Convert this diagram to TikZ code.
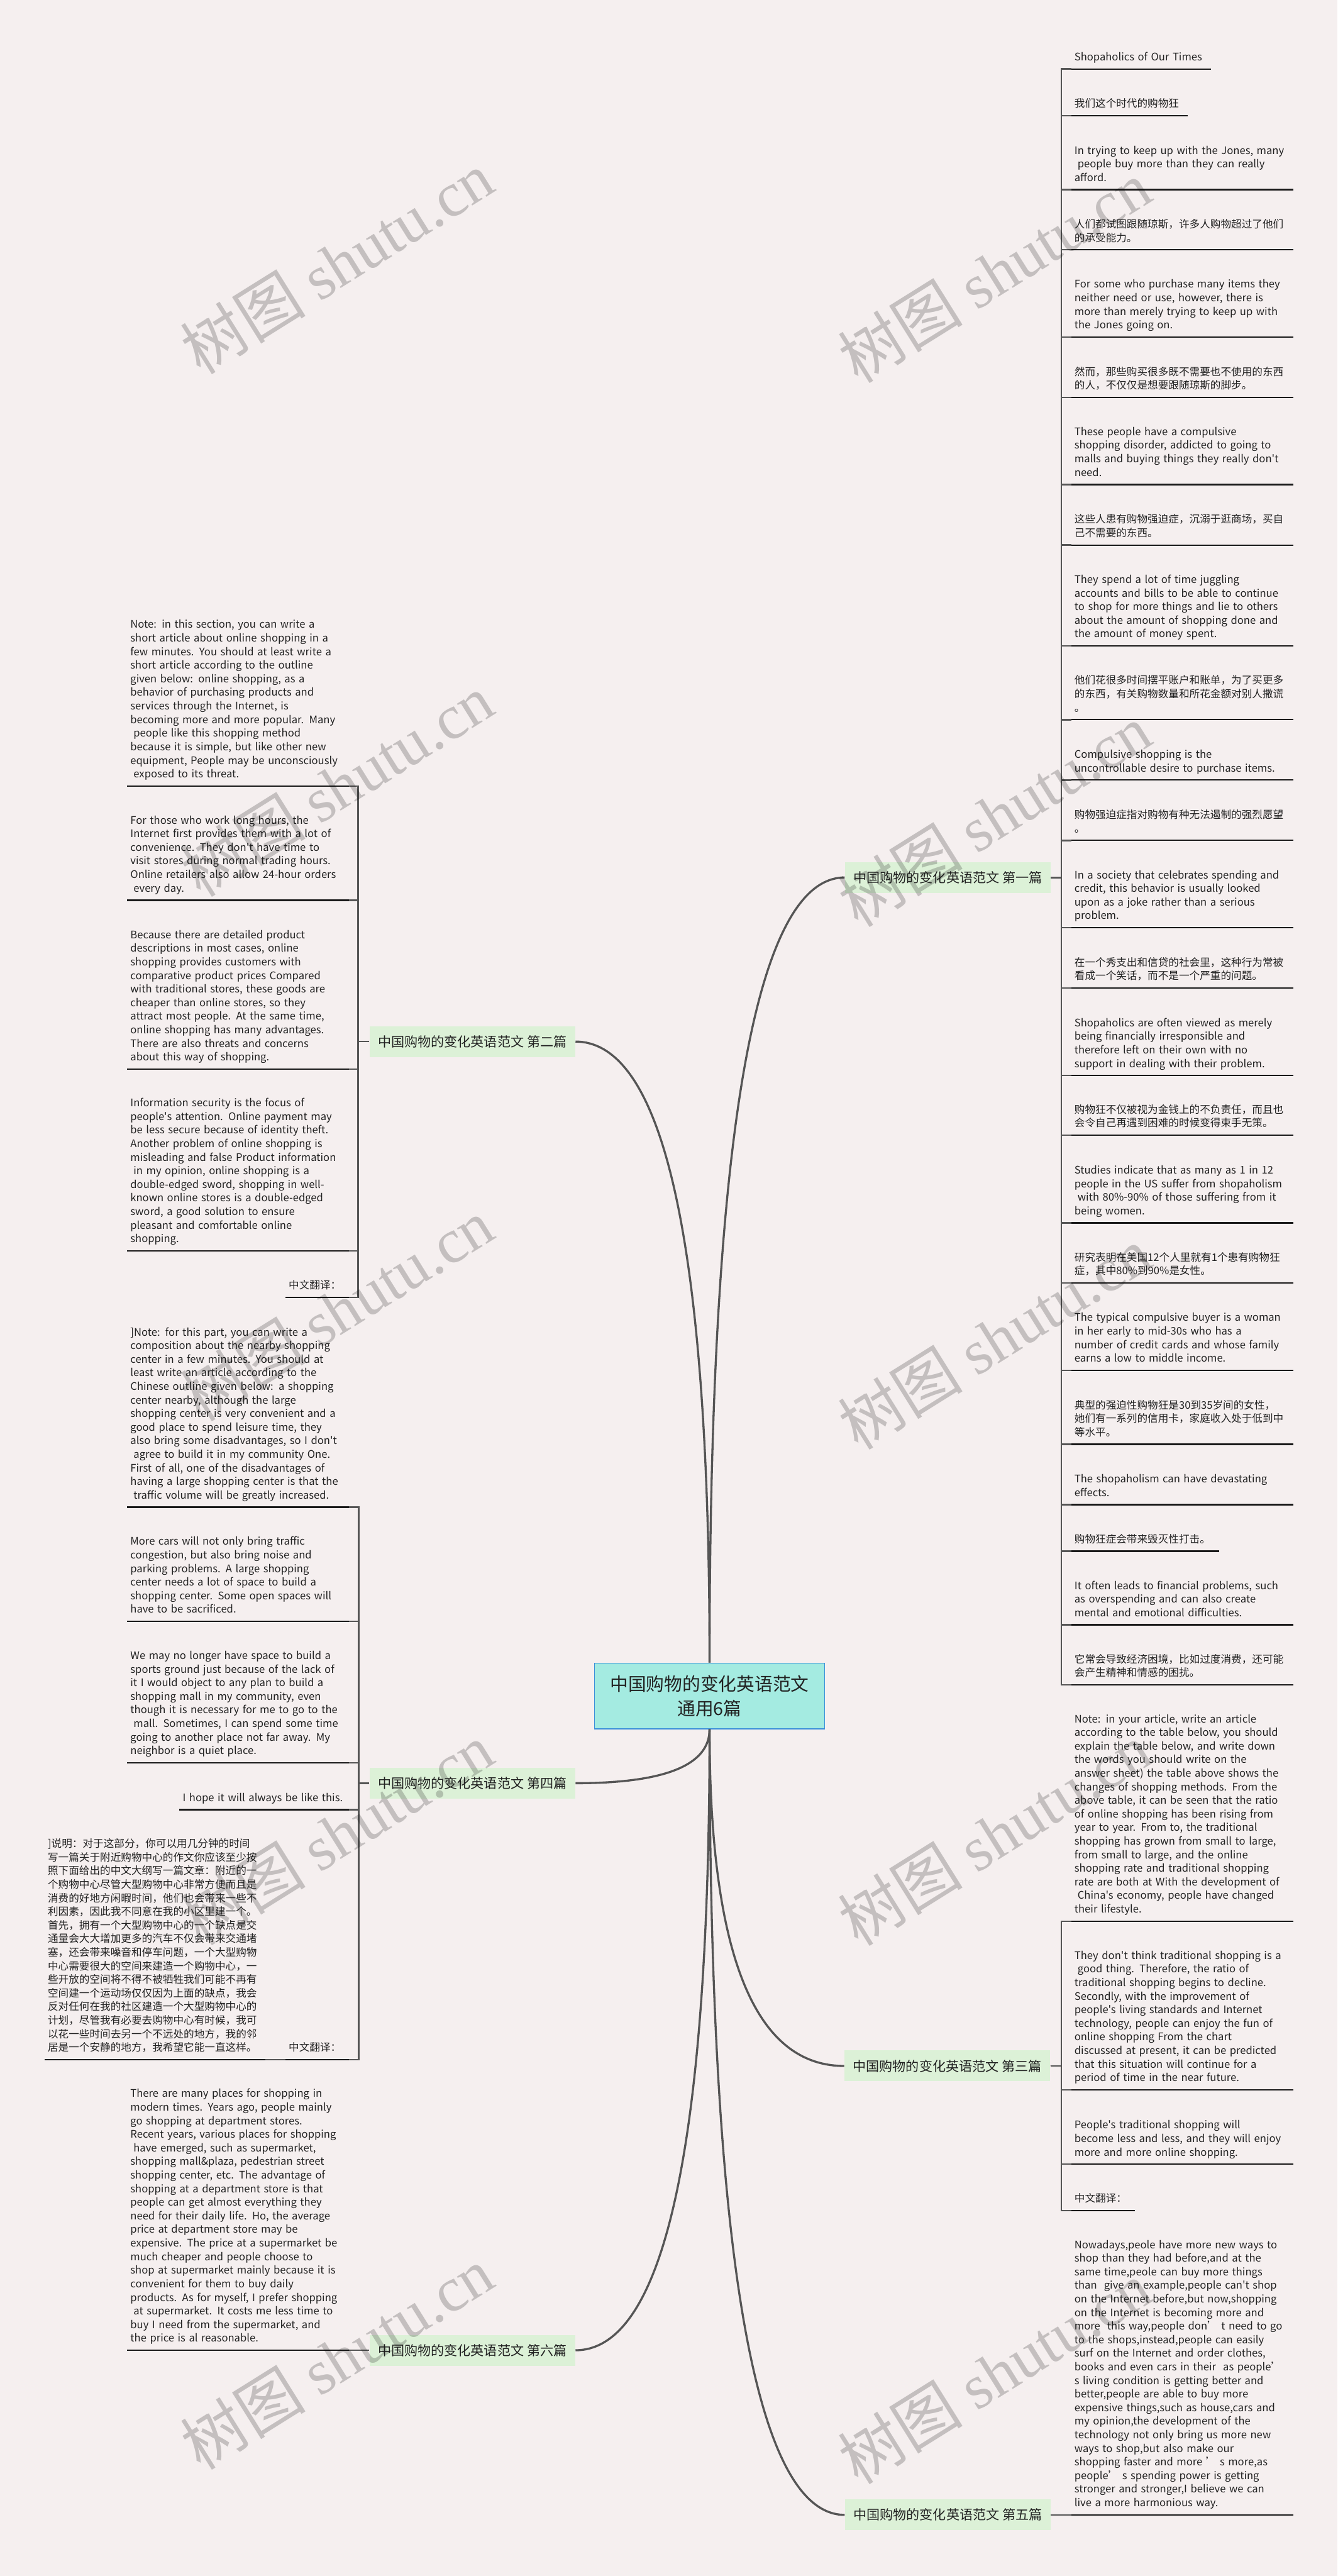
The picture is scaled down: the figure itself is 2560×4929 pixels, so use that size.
\documentclass[tikz,border=0pt]{standalone}
\usepackage{fontspec}
\setmainfont{Noto Sans CJK SC}[Ligatures=TeXOff]
\newfontfamily\wmserif{Liberation Serif}
\usetikzlibrary{calc}
\definecolor{bgcol}{HTML}{F5EFEF}
\definecolor{rootfill}{HTML}{A4EBE1}
\definecolor{rootdraw}{HTML}{3A8FD9}
\definecolor{branchfill}{HTML}{DCF1D7}
\definecolor{linecol}{HTML}{555555}
\definecolor{textcol}{HTML}{222222}
\tikzset{
  root/.style={fill=rootfill, draw=rootdraw, line width=0.8pt, minimum width=220pt, minimum height=63pt, align=center, font=\fontsize{17.3pt}{23.5pt}\selectfont, text=textcol, inner sep=0pt},
  branch/.style={fill=branchfill, minimum width=197pt, minimum height=29.5pt, inner sep=0pt, font=\fontsize{12.7pt}{15pt}\selectfont, text=textcol},
  leafR/.style={anchor=south west, inner xsep=3pt, inner ysep=3.85pt, text width=206pt, align=left, font=\fontsize{10pt}{13pt}\selectfont, text=textcol, execute at end node=\strut},
  leafL/.style={leafR, anchor=south east},
  curve/.style={draw=linecol, line width=2pt},
  spine/.style={draw=linecol, line width=1.5pt},
  uline/.style={draw=black!90, line width=1.4pt},
  wm/.style={rotate=32, text=black, text opacity=0.2, font=\fontsize{60pt}{60pt}\selectfont, inner sep=0pt}
}
\begin{document}
\begin{tikzpicture}[x=0.5pt, y=-0.5pt]
\fill[bgcol] (0,0) rectangle (2560,4929);
\useasboundingbox (0,0) rectangle (2560,4929);

% root and branches
\node[root] (root) at (1358,3245) {中国购物的变化英语范文\\通用6篇};
\node[branch] (b1) at (1814,1679) {中国购物的变化英语范文 第一篇};
\node[branch] (b2) at (904,1993) {中国购物的变化英语范文 第二篇};
\node[branch] (b4) at (904,3412) {中国购物的变化英语范文 第四篇};
\node[branch] (b3) at (1813,3953) {中国购物的变化英语范文 第三篇};
\node[branch] (b6) at (904,4497) {中国购物的变化英语范文 第六篇};
\node[branch] (b5) at (1814,4812) {中国购物的变化英语范文 第五篇};

% curves
\coordinate (k1) at (root.north |- b1.west);
\coordinate (k2) at (root.north |- b2.east);
\coordinate (k4) at (root.south |- b4.east);
\coordinate (k3) at (root.south |- b3.west);
\coordinate (k6) at (root.south |- b6.east);
\coordinate (k5) at (root.south |- b5.west);
\draw[curve] (root.north) .. controls ($(root.north)!0.6667!(k1)$) and ($(b1.west)!0.6667!(k1)$) .. (b1.west);
\draw[curve] (root.north) .. controls ($(root.north)!0.6667!(k2)$) and ($(b2.east)!0.6667!(k2)$) .. (b2.east);
\draw[curve] (root.south) .. controls ($(root.south)!0.6667!(k4)$) and ($(b4.east)!0.6667!(k4)$) .. (b4.east);
\draw[curve] (root.south) .. controls ($(root.south)!0.6667!(k3)$) and ($(b3.west)!0.6667!(k3)$) .. (b3.west);
\draw[curve] (root.south) .. controls ($(root.south)!0.6667!(k6)$) and ($(b6.east)!0.6667!(k6)$) .. (b6.east);
\draw[curve] (root.south) .. controls ($(root.south)!0.6667!(k5)$) and ($(b5.west)!0.6667!(k5)$) .. (b5.west);

% ---------- branch 1 leaves ----------
\node[leafR, text width=127.5pt] (r1) at (2050,132) {Shopaholics of Our Times};
\node[leafR, text width=105pt] (r2) at (2050,221.5) {我们这个时代的购物狂};
\node[leafR] (r3) at (2050,363) {In trying to keep up with the Jones, many\\\hspace*{3pt}people buy more than they can really\\afford.};
\node[leafR] (r4) at (2050,478) {人们都试图跟随琼斯，许多人购物超过了他们\\的承受能力。};
\node[leafR] (r5) at (2050,645) {For some who purchase many items they\\neither need or use, however, there is\\more than merely trying to keep up with\\the Jones going on.};
\node[leafR] (r6) at (2050,760.6) {然而，那些购买很多既不需要也不使用的东西\\的人，不仅仅是想要跟随琼斯的脚步。};
\node[leafR] (r7) at (2050,927) {These people have a compulsive\\shopping disorder, addicted to going to\\malls and buying things they really don't\\need.};
\node[leafR] (r8) at (2050,1043) {这些人患有购物强迫症，沉溺于逛商场，买自\\己不需要的东西。};
\node[leafR] (r9) at (2050,1236) {They spend a lot of time juggling\\accounts and bills to be able to continue\\to shop for more things and lie to others\\about the amount of shopping done and\\the amount of money spent.};
\node[leafR] (r10) at (2050,1377) {他们花很多时间摆平账户和账单，为了买更多\\的东西，有关购物数量和所花金额对别人撒谎\\。};
\node[leafR] (r11) at (2050,1492.5) {Compulsive shopping is the\\uncontrollable desire to purchase items.};
\node[leafR] (r12) at (2050,1608) {购物强迫症指对购物有种无法遏制的强烈愿望\\。};
\node[leafR] (r13) at (2050,1775) {In a society that celebrates spending and\\credit, this behavior is usually looked\\upon as a joke rather than a serious\\problem.};
\node[leafR] (r14) at (2050,1890.5) {在一个秀支出和信贷的社会里，这种行为常被\\看成一个笑话，而不是一个严重的问题。};
\node[leafR] (r15) at (2050,2058) {Shopaholics are often viewed as merely\\being financially irresponsible and\\therefore left on their own with no\\support in dealing with their problem.};
\node[leafR] (r16) at (2050,2172) {购物狂不仅被视为金钱上的不负责任，而且也\\会令自己再遇到困难的时候变得束手无策。};
\node[leafR] (r17) at (2050,2340) {Studies indicate that as many as 1 in 12\\people in the US suffer from shopaholism\\\hspace*{3pt}with 80\%-90\% of those suffering from it\\being women.};
\node[leafR] (r18) at (2050,2455) {研究表明在美国12个人里就有1个患有购物狂\\症，其中80\%到90\%是女性。};
\node[leafR] (r19) at (2050,2622) {The typical compulsive buyer is a woman\\in her early to mid-30s who has a\\number of credit cards and whose family\\earns a low to middle income.};
\node[leafR] (r20) at (2050,2763.5) {典型的强迫性购物狂是30到35岁间的女性，\\她们有一系列的信用卡，家庭收入处于低到中\\等水平。};
\node[leafR] (r21) at (2050,2879) {The shopaholism can have devastating\\effects.};
\node[leafR, text width=135pt] (r22) at (2050,2968) {购物狂症会带来毁灭性打击。};
\node[leafR] (r23) at (2050,3109) {It often leads to financial problems, such\\as overspending and can also create\\mental and emotional difficulties.};
\node[leafR] (r24) at (2050,3224) {它常会导致经济困境，比如过度消费，还可能\\会产生精神和情感的困扰。};

% ---------- branch 2 leaves ----------
\node[leafL] (l1) at (668,1504) {Note: in this section, you can write a\\short article about online shopping in a\\few minutes. You should at least write a\\short article according to the outline\\given below: online shopping, as a\\behavior of purchasing products and\\services through the Internet, is\\becoming more and more popular. Many\\\hspace*{3pt}people like this shopping method\\because it is simple, but like other new\\equipment, People may be unconsciously\\\hspace*{3pt}exposed to its threat.};
\node[leafL] (l2) at (668,1722.5) {For those who work long hours, the\\Internet first provides them with a lot of\\convenience. They don't have time to\\visit stores during normal trading hours.\\Online retailers also allow 24-hour orders\\\hspace*{3pt}every day.};
\node[leafL] (l3) at (668,2045.6) {Because there are detailed product\\descriptions in most cases, online\\shopping provides customers with\\comparative product prices Compared\\with traditional stores, these goods are\\cheaper than online stores, so they\\attract most people. At the same time,\\online shopping has many advantages.\\There are also threats and concerns\\about this way of shopping.};
\node[leafL] (l4) at (668,2393.5) {Information security is the focus of\\people's attention. Online payment may\\be less secure because of identity theft.\\Another problem of online shopping is\\misleading and false Product information\\\hspace*{3pt}in my opinion, online shopping is a\\double-edged sword, shopping in well-\\known online stores is a double-edged\\sword, a good solution to ensure\\pleasant and comfortable online\\shopping.};
\node[leafL, text width=54.5pt] (l5) at (668,2482.5) {中文翻译：};

% ---------- branch 4 leaves ----------
\node[leafL] (m1) at (668,2884) {]Note: for this part, you can write a\\composition about the nearby shopping\\center in a few minutes. You should at\\least write an article according to the\\Chinese outline given below: a shopping\\center nearby, although the large\\shopping center is very convenient and a\\good place to spend leisure time, they\\also bring some disadvantages, so I don't\\\hspace*{3pt}agree to build it in my community One.\\First of all, one of the disadvantages of\\having a large shopping center is that the\\\hspace*{3pt}traffic volume will be greatly increased.};
\node[leafL] (m2) at (668,3102.5) {More cars will not only bring traffic\\congestion, but also bring noise and\\parking problems. A large shopping\\center needs a lot of space to build a\\shopping center. Some open spaces will\\have to be sacrificed.};
\node[leafL] (m3) at (668,3373) {We may no longer have space to build a\\sports ground just because of the lack of\\it I would object to any plan to build a\\shopping mall in my community, even\\though it is necessary for me to go to the\\\hspace*{3pt}mall. Sometimes, I can spend some time\\going to another place not far away. My\\neighbor is a quiet place.};
\node[leafL, text width=156pt] (m4) at (668,3462.5) {I hope it will always be like this.};
\node[leafL, text width=54.5pt] (m5) at (668,3941) {中文翻译：};
\node[leafL, text width=205pt] (m6) at (508,3941) {]说明：对于这部分，你可以用几分钟的时间\\写一篇关于附近购物中心的作文你应该至少按\\照下面给出的中文大纲写一篇文章：附近的一\\个购物中心尽管大型购物中心非常方便而且是\\消费的好地方闲暇时间，他们也会带来一些不\\利因素，因此我不同意在我的小区里建一个。\\首先，拥有一个大型购物中心的一个缺点是交\\通量会大大增加更多的汽车不仅会带来交通堵\\塞，还会带来噪音和停车问题，一个大型购物\\中心需要很大的空间来建造一个购物中心，一\\些开放的空间将不得不被牺牲我们可能不再有\\空间建一个运动场仅仅因为上面的缺点，我会\\反对任何在我的社区建造一个大型购物中心的\\计划，尽管我有必要去购物中心有时候，我可\\以花一些时间去另一个不远处的地方，我的邻\\居是一个安静的地方，我希望它能一直这样。};

% ---------- branch 3 leaves ----------
\node[leafR] (n1) at (2050,3676) {Note: in your article, write an article\\according to the table below, you should\\explain the table below, and write down\\the words you should write on the\\answer sheet) the table above shows the\\changes of shopping methods. From the\\above table, it can be seen that the ratio\\of online shopping has been rising from\\year to year. From to, the traditional\\shopping has grown from small to large,\\from small to large, and the online\\shopping rate and traditional shopping\\rate are both at With the development of\\\hspace*{3pt}China's economy, people have changed\\their lifestyle.};
\node[leafR] (n2) at (2050,3998.6) {They don't think traditional shopping is a\\\hspace*{3pt}good thing. Therefore, the ratio of\\traditional shopping begins to decline.\\Secondly, with the improvement of\\people's living standards and Internet\\technology, people can enjoy the fun of\\online shopping From the chart\\discussed at present, it can be predicted\\that this situation will continue for a\\period of time in the near future.};
\node[leafR] (n3) at (2050,4141) {People's traditional shopping will\\become less and less, and they will enjoy\\more and more online shopping.};
\node[leafR, text width=54.5pt] (n4) at (2050,4230) {中文翻译：};

% ---------- branch 5 leaf ----------
\node[leafR] (p1) at (2050,4812) {Nowadays,peole have more new ways to\\shop than they had before,and at the\\same time,peole can buy more things\\than\ \ give an example,people can't shop\\on the Internet before,but now,shopping\\on the Internet is becoming more and\\more\ \ this way,people don’\ t need to go\\to the shops,instead,people can easily\\surf on the Internet and order clothes,\\books and even cars in their\ \ as people’\\s living condition is getting better and\\better,people are able to buy more\\expensive things,such as house,cars and\\my opinion,the development of the\\technology not only bring us more new\\ways to shop,but also make our\\shopping faster and more ’\ s more,as\\people’\ s spending power is getting\\stronger and stronger,I believe we can\\live a more harmonious way.};

% ---------- branch 6 leaf ----------
\node[leafL] (s1) at (668,4497) {There are many places for shopping in\\modern times. Years ago, people mainly\\go shopping at department stores.\\Recent years, various places for shopping\\\hspace*{3pt}have emerged, such as supermarket,\\shopping mall\&plaza, pedestrian street\\shopping center, etc. The advantage of\\shopping at a department store is that\\people can get almost everything they\\need for their daily life. Ho, the average\\price at department store may be\\expensive. The price at a supermarket be\\much cheaper and people choose to\\shop at supermarket mainly because it is\\convenient for them to buy daily\\products. As for myself, I prefer shopping\\\hspace*{3pt}at supermarket. It costs me less time to\\buy I need from the supermarket, and\\the price is al reasonable.};

% ---------- spines ----------
\foreach \n in {r1,r2,r3,r4,r5,r6,r7,r8,r9,r10,r11,r12,r13,r14,r15,r16,r17,r18,r19,r20,r21,r22,r23,r24}
  \draw[spine] (b1.east) -- ++(20,0) |- (\n.south west);
\foreach \n in {n1,n2,n3,n4}
  \draw[spine] (b3.east) -- ++(21,0) |- (\n.south west);
\foreach \n in {l1,l2,l3,l4,l5}
  \draw[spine] (b2.west) -- ++(-21,0) |- (\n.south east);
\foreach \n in {m1,m2,m3,m4,m5}
  \draw[spine] (b4.west) -- ++(-20,0) |- (\n.south east);
\draw[spine] (m5.south west) -- (m6.south east);
\draw[spine] (b5.east) -- (p1.south west);
\draw[spine] (s1.south east) -- (b6.west);

% ---------- underlines ----------
\foreach \n in {r1,r2,r3,r4,r5,r6,r7,r8,r9,r10,r11,r12,r13,r14,r15,r16,r17,r18,r19,r20,r21,r22,r23,r24,n1,n2,n3,n4,l1,l2,l3,l4,l5,m1,m2,m3,m4,m5,m6,p1,s1}
  \draw[uline] (\n.south west) -- (\n.south east);

% ---------- watermarks ----------
\node[wm] (w1) at (645,503) {树图 {\wmserif shutu.cn}};
\node[wm] (w2) at (1903,520) {树图 {\wmserif shutu.cn}};
\node[wm] (w3) at (645,1503) {树图 {\wmserif shutu.cn}};
\node[wm] (w4) at (1903,1560) {树图 {\wmserif shutu.cn}};
\node[wm] (w5) at (645,2506) {树图 {\wmserif shutu.cn}};
\node[wm] (w6) at (1903,2560) {树图 {\wmserif shutu.cn}};
\node[wm] (w7) at (645,3509) {树图 {\wmserif shutu.cn}};
\node[wm] (w8) at (1903,3510) {树图 {\wmserif shutu.cn}};
\node[wm] (w9) at (645,4512) {树图 {\wmserif shutu.cn}};
\node[wm] (w10) at (1903,4540) {树图 {\wmserif shutu.cn}};
\end{tikzpicture}
\end{document}
